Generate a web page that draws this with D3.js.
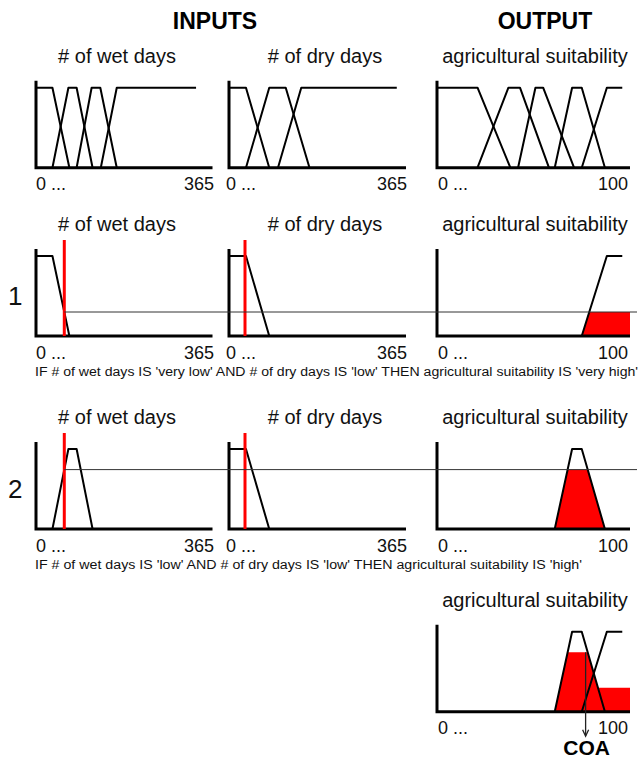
<!DOCTYPE html>
<html><head><meta charset="utf-8">
<script src="https://cdn.jsdelivr.net/npm/d3@7"></script>
<style>html,body{margin:0;padding:0;background:#fff;}svg{display:block;}</style>
</head><body><svg id="c" width="640" height="761"></svg>
<script>
// ---- data ----
const headers = ["INPUTS", "OUTPUT"];
const panelTitles = ["# of wet days", "# of dry days", "agricultural suitability"];
const wetDomain = [0, 365];
const dryDomain = [0, 365];
const outDomain = [0, 100];
const wetTicks = ["0 ...", "365"];
const dryTicks = ["0 ...", "365"];
const outTicks = ["0 ...", "100"];
const wetSets = ["very low", "low", "medium", "high"];
const wetMF = [[0, 0, 34, 69], [34, 67, 84, 117], [84, 115, 133, 167], [134, 167, 331, null]];
const drySets = ["low", "medium", "high"];
const dryMF = [[0, 0, 35, 83], [35, 83, 117, 166], [101, 149, 346, null]];
const outSets = ["very low", "low", "medium", "high", "very high"];
const outMF = [[0, 0, 21, 38], [21, 37, 43, 58], [42, 51, 55, 71], [61, 70, 75, 87], [75, 88, 96, null]];
const wetInput = 58.5;
const dryInput = 33;
const ruleWet = [0, 1];
const ruleDry = [0, 0];
const ruleOut = [4, 3];
const ruleLabels = ["1", "2"];
const ruleTexts = [
  "IF # of wet days IS 'very low' AND # of dry days IS 'low' THEN agricultural suitability IS 'very high'",
  "IF # of wet days IS 'low' AND # of dry days IS 'low' THEN agricultural suitability IS 'high'"
];
const coaValue = 77;
const coaLabel = "COA";

// ---- layout ----
const svg = d3.select("#c");
const FONT = "'Liberation Sans', Arial, Helvetica, sans-serif";
const rowBase = [167.7, 336, 529, 711.7];
const mfH = 80;
const panelX = [[36, 212.5], [229, 406], [437, 630]];
const xWet = d3.scaleLinear().domain(wetDomain).range(panelX[0]);
const xDry = d3.scaleLinear().domain(dryDomain).range(panelX[1]);
const xOut = d3.scaleLinear().domain(outDomain).range(panelX[2]);
const titleCx = [117, 325, 535];
const tickRight = [214, 407, 628];
const tickLeft = [36, 226, 438];

function mu(mf, v) {
  const [a, b, c, d] = mf;
  if (v < a) return 0;
  if (v < b) return (v - a) / (b - a);
  if (v <= c || d === null) return 1;
  if (v < d) return (d - v) / (d - c);
  return 0;
}
function mfPoints(mf) {
  const [a, b, c, d] = mf;
  const pts = [];
  if (a === b) pts.push([b, 1]); else { pts.push([a, 0]); pts.push([b, 1]); }
  pts.push([c, 1]);
  if (d !== null) pts.push([d, 0]);
  return pts;
}
function clipPoints(mf, h, domMax) {
  const [a, b, c, d] = mf;
  const pts = [[a, 0], [a + (b - a) * h, h]];
  if (d === null) { pts.push([domMax, h]); pts.push([domMax, 0]); }
  else { pts.push([d - (d - c) * h, h]); pts.push([d, 0]); }
  return pts;
}

function panel(row, col, x, ticks) {
  const base = rowBase[row];
  const y = d3.scaleLinear().domain([0, 1]).range([base, base - mfH]);
  const g = svg.append("g");
  const [x0, x1] = x.range();
  svg.append("text").attr("x", titleCx[col]).attr("y", base - 105)
    .attr("text-anchor", "middle").attr("font-family", FONT).attr("font-size", 20)
    .attr("fill", "#111").text(panelTitles[col]);
  svg.append("text").attr("x", tickLeft[col]).attr("y", base + 22.5)
    .attr("font-family", FONT).attr("font-size", 18).attr("fill", "#111").text(ticks[0]);
  svg.append("text").attr("x", tickRight[col]).attr("y", base + 22.5).attr("text-anchor", "end")
    .attr("font-family", FONT).attr("font-size", 18).attr("fill", "#111").text(ticks[1]);
  return { g, y, x, base, x0, x1 };
}
function drawAxes(p) {
  p.g.append("path")
    .attr("d", d3.line()([[p.x0, p.base - 87], [p.x0, p.base], [p.x1, p.base]]))
    .attr("fill", "none").attr("stroke", "#000").attr("stroke-width", 3)
    .attr("stroke-linejoin", "miter");
}
function drawMF(p, mf) {
  const line = d3.line().x(d => p.x(d[0])).y(d => p.y(d[1]));
  p.g.append("path").attr("d", line(mfPoints(mf))).attr("fill", "none")
    .attr("stroke", "#000").attr("stroke-width", 2).attr("stroke-linejoin", "round");
}
function drawFill(p, mf, h) {
  const line = d3.line().x(d => p.x(d[0])).y(d => p.y(d[1]));
  p.g.append("path").attr("d", line(clipPoints(mf, h, p.x.domain()[1])) + "Z")
    .attr("fill", "#ff0000").attr("stroke", "none");
}
function drawInputLine(p, v) {
  p.g.append("line").attr("x1", p.x(v)).attr("x2", p.x(v))
    .attr("y1", p.base - 96).attr("y2", p.base)
    .attr("stroke", "#ff0000").attr("stroke-width", 3);
}

// headers
svg.append("text").attr("x", 215).attr("y", 29).attr("text-anchor", "middle")
  .attr("font-family", FONT).attr("font-weight", "bold").attr("font-size", 23).text(headers[0]);
svg.append("text").attr("x", 545).attr("y", 29).attr("text-anchor", "middle")
  .attr("font-family", FONT).attr("font-weight", "bold").attr("font-size", 23).text(headers[1]);

// row 0: all membership functions
{
  const p1 = panel(0, 0, xWet, wetTicks); wetMF.forEach(m => drawMF(p1, m)); drawAxes(p1);
  const p2 = panel(0, 1, xDry, dryTicks); dryMF.forEach(m => drawMF(p2, m)); drawAxes(p2);
  const p3 = panel(0, 2, xOut, outTicks); outMF.forEach(m => drawMF(p3, m)); drawAxes(p3);
}

// rule rows
const strengths = [];
[0, 1].forEach(r => {
  const row = r + 1;
  const mw = wetMF[ruleWet[r]], md = dryMF[ruleDry[r]], mo = outMF[ruleOut[r]];
  const h = Math.min(mu(mw, wetInput), mu(md, dryInput));
  strengths.push(h);
  const p1 = panel(row, 0, xWet, wetTicks);
  const p2 = panel(row, 1, xDry, dryTicks);
  const p3 = panel(row, 2, xOut, outTicks);
  drawMF(p1, mw); drawAxes(p1);
  drawMF(p2, md); drawAxes(p2);
  drawFill(p3, mo, h); drawMF(p3, mo); drawAxes(p3);
  svg.append("line").attr("x1", xWet(wetInput)).attr("x2", 637)
    .attr("y1", p1.y(h)).attr("y2", p1.y(h))
    .attr("stroke", "#333").attr("stroke-width", 1);
  drawInputLine(p1, wetInput);
  drawInputLine(p2, dryInput);
  svg.append("text").attr("x", 8).attr("y", rowBase[row] - 31)
    .attr("font-family", FONT).attr("font-size", 26).attr("fill", "#111").text(ruleLabels[r]);
  svg.append("text").attr("x", 35).attr("y", rowBase[row] + 39.5)
    .attr("font-family", FONT).attr("font-size", 12.5).attr("fill", "#111")
    .attr("textLength", r === 0 ? 603 : 547).attr("lengthAdjust", "spacingAndGlyphs")
    .text(ruleTexts[r]);
});

// aggregated output
{
  const p = panel(3, 2, xOut, outTicks);
  [0, 1].forEach(r => drawFill(p, outMF[ruleOut[r]], strengths[r]));
  [3, 4].forEach(i => drawMF(p, outMF[i]));
  drawAxes(p);
  const hMax = d3.max(strengths);
  const cx = xOut(coaValue);
  p.g.append("line").attr("x1", cx).attr("x2", cx).attr("y1", p.y(hMax)).attr("y2", p.base + 24)
    .attr("stroke", "#222").attr("stroke-width", 1.3);
  p.g.append("path").attr("d", d3.line()([[cx - 3, p.base + 18], [cx, p.base + 24.5], [cx + 3, p.base + 18]]))
    .attr("fill", "none").attr("stroke", "#222").attr("stroke-width", 1.3);
  svg.append("text").attr("x", cx + 1).attr("y", p.base + 43).attr("text-anchor", "middle")
    .attr("font-family", FONT).attr("font-weight", "bold").attr("font-size", 21).text(coaLabel);
}
</script></body></html>
